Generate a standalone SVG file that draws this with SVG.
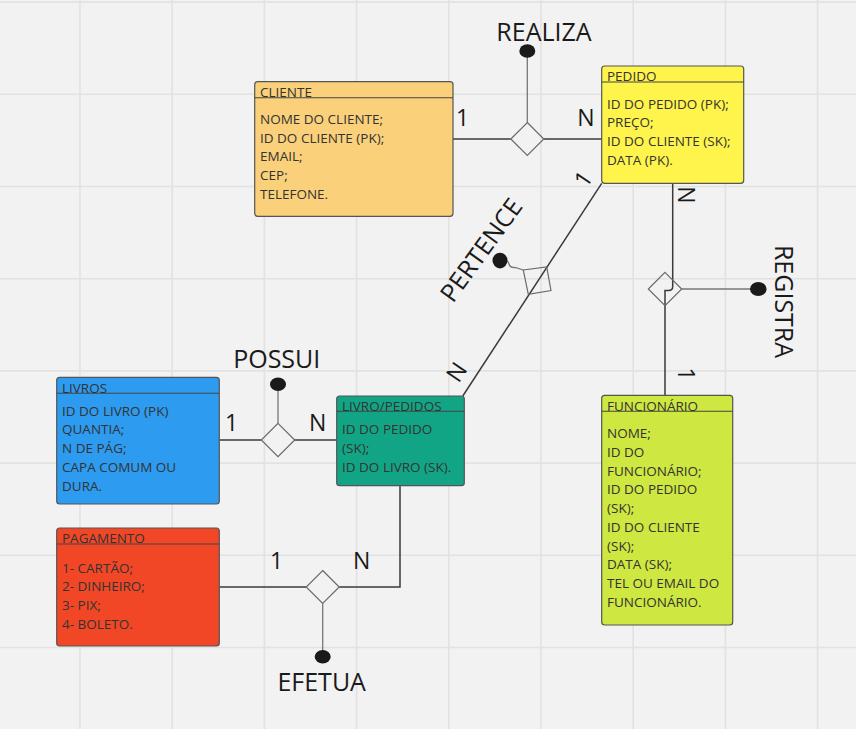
<svg xmlns="http://www.w3.org/2000/svg" width="856" height="729" viewBox="0 0 856 729">
<style>
.bg{fill:#f2f2f2}
.grid line{stroke:#e2e2e2;stroke-width:1.6}
.box{stroke:#555;stroke-width:1.2}
.hdr{stroke:#444;stroke-width:1.1}
.t{font-family:"Open Sans","Liberation Sans",sans-serif;font-size:13.5px;fill:#333}
.big{font-family:"Open Sans","Liberation Sans",sans-serif;font-size:25px;fill:#1a1a1a}
.num{font-family:"Open Sans","Liberation Sans",sans-serif;font-size:23px;fill:#1a1a1a}
.ln{stroke:#3a3a3a;stroke-width:1.5;fill:none}
.stem{stroke:#777;stroke-width:1.3;fill:none}
.dia{stroke:#6a6a6a;stroke-width:1.2;fill:none}
.dot{fill:#1a1a1a}
</style>
<rect class="bg" x="0" y="0" width="856" height="729"/>
<g class="grid">
<line x1="80" y1="0" x2="80" y2="729"/><line x1="172.2" y1="0" x2="172.2" y2="729"/><line x1="264.4" y1="0" x2="264.4" y2="729"/><line x1="356.6" y1="0" x2="356.6" y2="729"/><line x1="448.8" y1="0" x2="448.8" y2="729"/><line x1="541" y1="0" x2="541" y2="729"/><line x1="633.2" y1="0" x2="633.2" y2="729"/><line x1="725.4" y1="0" x2="725.4" y2="729"/><line x1="817.6" y1="0" x2="817.6" y2="729"/>
<line x1="0" y1="2.1" x2="856" y2="2.1"/><line x1="0" y1="94.3" x2="856" y2="94.3"/><line x1="0" y1="186.5" x2="856" y2="186.5"/><line x1="0" y1="278.7" x2="856" y2="278.7"/><line x1="0" y1="370.9" x2="856" y2="370.9"/><line x1="0" y1="463.1" x2="856" y2="463.1"/><line x1="0" y1="555.3" x2="856" y2="555.3"/><line x1="0" y1="647.5" x2="856" y2="647.5"/>
</g>
<g id="connectors">
<!-- REALIZA -->
<line class="ln" x1="453" y1="139" x2="510.8" y2="139"/>
<line class="ln" x1="543.8" y1="139" x2="601.7" y2="139"/>
<polygon class="dia" points="527.3,122.5 543.8,139 527.3,155.5 510.8,139"/>
<line class="stem" x1="527.3" y1="122.5" x2="527.3" y2="51"/>
<ellipse class="dot" cx="527.3" cy="51" rx="8" ry="6.8"/>
<text class="big" x="544" y="41" text-anchor="middle">REALIZA</text>
<text class="num" x="462.7" y="126" text-anchor="middle">1</text>
<text class="num" x="586" y="126" text-anchor="middle">N</text>
<!-- POSSUI -->
<line class="ln" x1="219.3" y1="440" x2="261.3" y2="440"/>
<line class="ln" x1="294.7" y1="440" x2="336.7" y2="440"/>
<polygon class="dia" points="278,423.3 294.7,440 278,456.7 261.3,440"/>
<line class="stem" x1="278" y1="423.3" x2="278" y2="384.3"/>
<ellipse class="dot" cx="278" cy="384.3" rx="8" ry="6.8"/>
<text class="big" x="276.7" y="368.3" text-anchor="middle">POSSUI</text>
<text class="num" x="231.7" y="430.7" text-anchor="middle">1</text>
<text class="num" x="317.7" y="430.7" text-anchor="middle">N</text>
<!-- EFETUA -->
<line class="ln" x1="219.3" y1="587" x2="306.2" y2="587"/>
<polyline class="ln" points="339.2,587 400,587 400,485.7"/>
<polygon class="dia" points="322.7,570.5 339.2,587 322.7,603.5 306.2,587"/>
<line class="stem" x1="322.7" y1="603.5" x2="322.7" y2="656.7"/>
<ellipse class="dot" cx="322.7" cy="656.7" rx="8" ry="6.8"/>
<text class="big" x="321.7" y="691" text-anchor="middle">EFETUA</text>
<text class="num" x="276.7" y="569.3" text-anchor="middle">1</text>
<text class="num" x="361.7" y="569.3" text-anchor="middle">N</text>
<!-- PERTENCE -->
<line class="ln" x1="601.7" y1="183.3" x2="462.8" y2="396"/>
<polygon class="dia" points="523.3,270 546.7,267 551,290.5 528.3,294.3"/>
<path class="stem" d="M501,261 Q508,259 509,264 Q510,268 515,267.5 L523.3,270"/>
<ellipse class="dot" cx="500" cy="260.6" rx="7.5" ry="7.8"/>
<text class="big" transform="translate(481,250) rotate(-54)" x="0" y="9" text-anchor="middle">PERTENCE</text>
<text class="num" transform="translate(583.3,179) rotate(-56)" x="0" y="8" text-anchor="middle" font-size="21">1</text>
<text class="num" transform="translate(456.7,372) rotate(-56)" x="0" y="8" text-anchor="middle" font-size="21">N</text>
<!-- REGISTRA -->
<path class="ln" d="M672.7,183.3 V286.5 Q672.7,290.5 668.5,290.5 H665 V395.3"/>
<polygon class="dia" points="665,272.3 681.7,289 665,305.7 648.3,289"/>
<line class="stem" x1="681.7" y1="289" x2="758.3" y2="289"/>
<ellipse class="dot" cx="758.3" cy="289" rx="8.3" ry="7"/>
<text class="big" transform="translate(784,301.5) rotate(90)" x="0" y="9" text-anchor="middle">REGISTRA</text>
<text class="num" transform="translate(686,195) rotate(90)" x="0" y="8" text-anchor="middle">N</text>
<text class="num" transform="translate(686,374) rotate(90)" x="0" y="8" text-anchor="middle">1</text>
</g>
<g id="cliente">
<rect class="box" x="254.7" y="81.7" width="198.3" height="134.6" rx="3" fill="#fad07a"/>
<line class="hdr" x1="254.7" y1="97.7" x2="453" y2="97.7"/>
<text class="t" x="260" y="96.5">CLIENTE</text>
<text class="t" x="260" y="123.7">NOME DO CLIENTE;</text>
<text class="t" x="260" y="142.5">ID DO CLIENTE (PK);</text>
<text class="t" x="260" y="161.3">EMAIL;</text>
<text class="t" x="260" y="180.1">CEP;</text>
<text class="t" x="260" y="198.9">TELEFONE.</text>
</g>
<g id="pedido">
<rect class="box" x="601.7" y="66" width="142" height="117.3" rx="3" fill="#fef44c"/>
<line class="hdr" x1="601.7" y1="82" x2="743.7" y2="82"/>
<text class="t" x="607" y="81">PEDIDO</text>
<text class="t" x="607" y="108.7">ID DO PEDIDO (PK);</text>
<text class="t" x="607" y="127.4">PREÇO;</text>
<text class="t" x="607" y="146.1">ID DO CLIENTE (SK);</text>
<text class="t" x="607" y="164.8">DATA (PK).</text>
</g>
<g id="livros">
<rect class="box" x="56.7" y="377.3" width="162.6" height="126.7" rx="3" fill="#2d9bf0"/>
<line class="hdr" x1="56.7" y1="393.3" x2="219.3" y2="393.3"/>
<text class="t" x="62" y="392.5">LIVROS</text>
<text class="t" x="62" y="415.7">ID DO LIVRO (PK)</text>
<text class="t" x="62" y="434.4">QUANTIA;</text>
<text class="t" x="62" y="453.1">N DE PÁG;</text>
<text class="t" x="62" y="471.8">CAPA COMUM OU</text>
<text class="t" x="62" y="490.5">DURA.</text>
</g>
<g id="livro-pedidos">
<rect class="box" x="336.7" y="396" width="127.6" height="89.7" rx="3" fill="#12a585"/>
<line class="hdr" x1="336.7" y1="411.3" x2="464.3" y2="411.3"/>
<text class="t" x="342" y="410.5">LIVRO/PEDIDOS</text>
<text class="t" x="342" y="434.3">ID DO PEDIDO</text>
<text class="t" x="342" y="453">(SK);</text>
<text class="t" x="342" y="471.7">ID DO LIVRO (SK).</text>
</g>
<g id="pagamento">
<rect class="box" x="56.7" y="528" width="162.6" height="118" rx="3" fill="#f24726"/>
<line class="hdr" x1="56.7" y1="544" x2="219.3" y2="544"/>
<text class="t" x="62" y="543">PAGAMENTO</text>
<text class="t" x="62" y="572.7">1- CARTÃO;</text>
<text class="t" x="62" y="591.4">2- DINHEIRO;</text>
<text class="t" x="62" y="610.1">3- PIX;</text>
<text class="t" x="62" y="628.8">4- BOLETO.</text>
</g>
<g id="funcionario">
<rect class="box" x="601.7" y="395.3" width="131" height="229.7" rx="3" fill="#cee741"/>
<line class="hdr" x1="601.7" y1="411.3" x2="732.7" y2="411.3"/>
<text class="t" x="607" y="410.5">FUNCIONÁRIO</text>
<text class="t" x="607" y="438">NOME;</text>
<text class="t" x="607" y="456.8">ID DO</text>
<text class="t" x="607" y="475.5">FUNCIONÁRIO;</text>
<text class="t" x="607" y="494.3">ID DO PEDIDO</text>
<text class="t" x="607" y="513.1">(SK);</text>
<text class="t" x="607" y="531.9">ID DO CLIENTE</text>
<text class="t" x="607" y="550.6">(SK);</text>
<text class="t" x="607" y="569.4">DATA (SK);</text>
<text class="t" x="607" y="588.2">TEL OU EMAIL DO</text>
<text class="t" x="607" y="607">FUNCIONÁRIO.</text>
</g>
</svg>
